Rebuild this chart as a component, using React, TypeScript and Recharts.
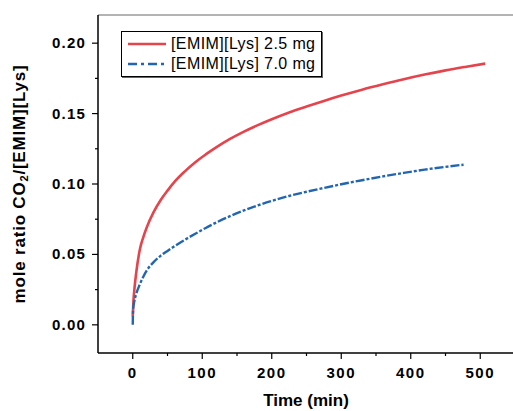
import React from "react";
import { LineChart, Line, XAxis, YAxis, ReferenceLine, Legend } from "recharts";

const FONT = "'Liberation Sans', Arial, sans-serif";
const RED = "#e5444c";
const BLUE = "#2266b0";

// [EMIM][Lys] 2.5 mg
const redTime = [0, 1, 2.5, 5, 10, 15, 20, 30, 40, 50, 60, 75, 90, 105, 120, 140, 160, 180, 200, 225, 250, 275, 300, 330, 360, 390, 420, 450, 480, 507];
const redRatio = [0.006, 0.017, 0.026, 0.037, 0.053, 0.062, 0.069, 0.08, 0.0885, 0.0953, 0.1015, 0.109, 0.1155, 0.121, 0.126, 0.132, 0.1372, 0.1418, 0.146, 0.1508, 0.155, 0.159, 0.1628, 0.167, 0.1708, 0.1744, 0.1777, 0.1807, 0.1833, 0.1855];

// [EMIM][Lys] 7.0 mg
const blueTime = [0, 0.5, 2, 5, 10, 15, 20, 30, 40, 50, 60, 75, 90, 105, 120, 140, 160, 180, 200, 225, 250, 275, 300, 330, 360, 390, 420, 450, 476];
const blueRatio = [0, 0.011, 0.016, 0.022, 0.0285, 0.034, 0.0385, 0.0445, 0.049, 0.0525, 0.0558, 0.0604, 0.0647, 0.0688, 0.0726, 0.0772, 0.0812, 0.0848, 0.088, 0.0915, 0.0945, 0.0972, 0.0998, 0.1027, 0.1054, 0.1079, 0.1102, 0.1122, 0.1137];

const xTicks = [0, 50, 100, 150, 200, 250, 300, 350, 400, 450, 500];
const yTicks = [0, 0.025, 0.05, 0.075, 0.1, 0.125, 0.15, 0.175, 0.2];

const legendItems = [
  { name: "[EMIM][Lys] 2.5 mg", color: RED, dash: undefined },
  { name: "[EMIM][Lys] 7.0 mg", color: BLUE, dash: "9 4 3 4" },
];

const redData = redTime.map((t, i) => ({ t, v: redRatio[i] }));
const blueData = blueTime.map((t, i) => ({ t, v: blueRatio[i] }));

const XTick = ({ x, y, payload }: any) => {
  const major = payload.value % 100 === 0;
  return (
    <g>
      <line x1={x} x2={x} y1={y} y2={y + (major ? 6 : 3)} stroke="#000" strokeWidth={1.2} />
      {major && (
        <text x={x} y={y + 25} textAnchor="middle" fontFamily={FONT} fontSize={15} fontWeight="bold" letterSpacing={1.5} fill="#000">
          {payload.value}
        </text>
      )}
    </g>
  );
};

const YTick = ({ x, y, payload }: any) => {
  const major = Math.round(payload.value * 1000) % 50 === 0;
  return (
    <g>
      <line x1={x} x2={x - (major ? 6 : 3)} y1={y} y2={y} stroke="#000" strokeWidth={1.2} />
      {major && (
        <text x={x - 12} y={y + 5} textAnchor="end" fontFamily={FONT} fontSize={15} fontWeight="bold" letterSpacing={1.2} fill="#000">
          {payload.value.toFixed(2)}
        </text>
      )}
    </g>
  );
};

const YTitle = () => (
  <text transform="translate(25,184) rotate(-90)" textAnchor="middle" fontFamily={FONT} fontSize={17} fontWeight="bold" letterSpacing={0.8} fill="#000">
    <tspan>mole ratio CO</tspan>
    <tspan fontSize={11} dy={3}>2</tspan>
    <tspan dy={-3}>/[EMIM][Lys]</tspan>
  </text>
);

const XTitle = () => (
  <text x={306} y={406} textAnchor="middle" fontFamily={FONT} fontSize={17} fontWeight="bold" fill="#000">
    Time (min)
  </text>
);

const LegendBox = () => (
  <div
    style={{
      border: "1px solid #000",
      boxShadow: "1px 1px 0 #666",
      background: "#fff",
      padding: "2px 6px 2px 5px",
      fontFamily: FONT,
      fontSize: 16,
      letterSpacing: 0.4,
      lineHeight: "20px",
    }}
  >
    {legendItems.map((it) => (
      <div key={it.name} style={{ display: "flex", alignItems: "center", whiteSpace: "nowrap" }}>
        <svg width={40} height={10} style={{ marginRight: 4 }}>
          <line x1={1} x2={39} y1={5} y2={5} stroke={it.color} strokeWidth={2.5} strokeDasharray={it.dash} />
        </svg>
        <span>{it.name}</span>
      </div>
    ))}
  </div>
);

export default function App() {
  return (
    <div style={{ position: "absolute", left: 0, top: 0, width: 513, height: 411, overflow: "hidden", background: "#fff" }}>
      <LineChart width={516} height={411} margin={{ top: 15, right: 1, left: 0, bottom: 0 }}>
        <XAxis
          dataKey="t"
          type="number"
          domain={[-50, 550]}
          ticks={xTicks}
          interval={0}
          tick={<XTick />}
          tickLine={false}
          tickSize={0}
          tickMargin={0}
          height={58}
          axisLine={{ stroke: "#000", strokeWidth: 1.5 }}
          allowDataOverflow
          label={{ content: () => <XTitle /> }}
        />
        <YAxis
          dataKey="v"
          type="number"
          domain={[-0.02, 0.22]}
          ticks={yTicks}
          interval={0}
          tick={<YTick />}
          tickLine={false}
          tickSize={0}
          tickMargin={0}
          width={98}
          axisLine={{ stroke: "#000", strokeWidth: 1.5 }}
          allowDataOverflow
          label={{ content: () => <YTitle /> }}
        />
        <ReferenceLine y={0.22} stroke="#9a9a9a" strokeWidth={1.5} ifOverflow="visible" />
        <Legend
          layout="horizontal"
          verticalAlign="middle"
          align="center"
          content={() => <LegendBox />}
          wrapperStyle={{ left: 121, top: 31, width: "auto" }}
        />
        <Line data={redData} dataKey="v" type="monotone" stroke={RED} strokeWidth={2.6} dot={false} isAnimationActive={false} />
        <Line data={blueData} dataKey="v" type="monotone" stroke={BLUE} strokeWidth={2.4} strokeDasharray="9 2 3 2" dot={false} isAnimationActive={false} />
      </LineChart>
    </div>
  );
}
